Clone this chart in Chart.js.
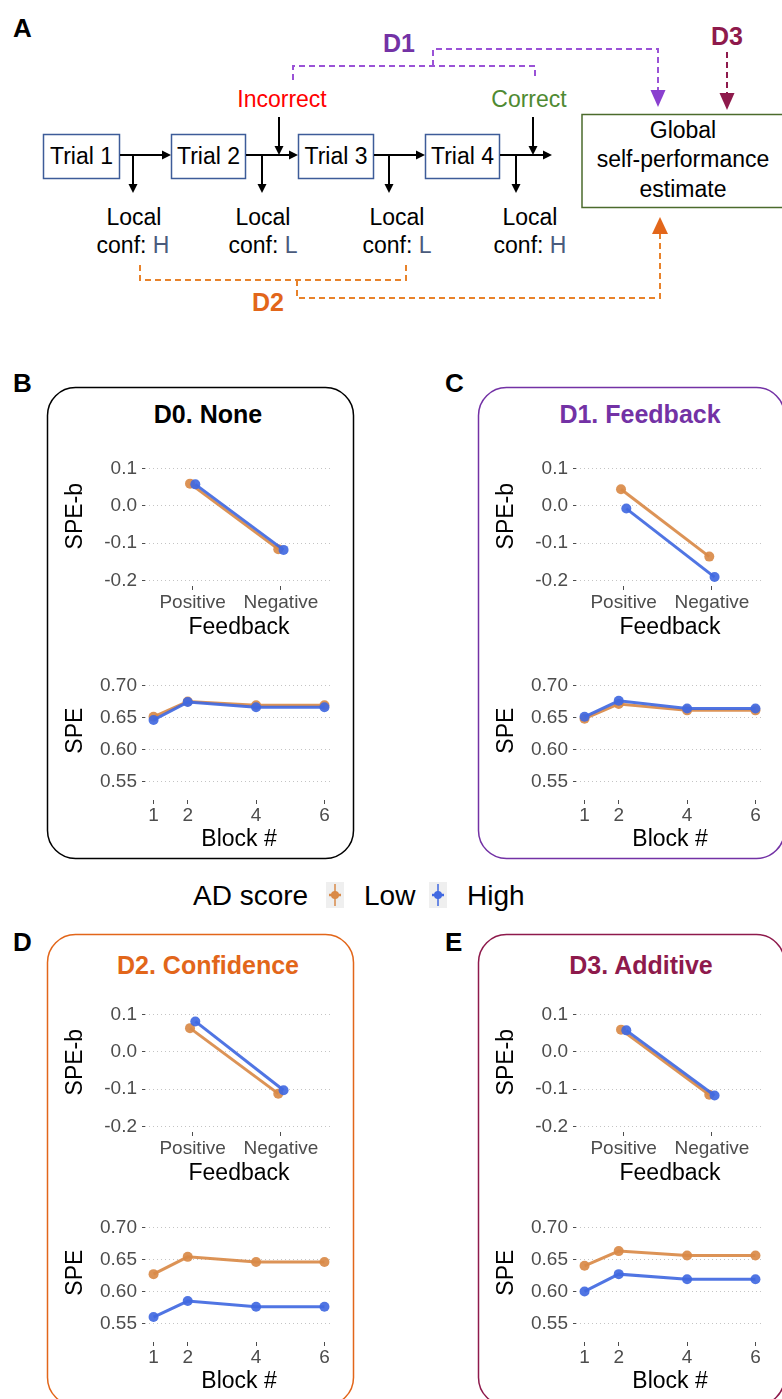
<!DOCTYPE html>
<html>
<head>
<meta charset="utf-8">
<script src="https://cdn.jsdelivr.net/npm/chart.js@4.4.0/dist/chart.umd.min.js"></script>
<style>
    body { margin: 0; width: 782px; height: 1399px; overflow: hidden; background: #fff; position: relative;
           font-family: "Liberation Sans", Arial, sans-serif; }
    #art { position: absolute; left: 0; top: 0; }
    canvas { position: absolute; }
    .t { font-family: "Liberation Sans", Arial, sans-serif; }
</style>
</head>
<body>
<svg id="art" width="782" height="1399" class="t">
    <!-- panel A: diagram -->
    <text x="13" y="37" font-size="26" font-weight="bold">A</text>

    <g fill="none" stroke="#3d5c99" stroke-width="1.5">
        <rect x="43.5" y="134.5" width="76" height="44"/>
        <rect x="171.5" y="134.5" width="74" height="44"/>
        <rect x="298.5" y="134.5" width="75" height="44"/>
        <rect x="425.5" y="134.5" width="74" height="44"/>
    </g>
    <g font-size="23" text-anchor="middle">
        <text x="81.5" y="164">Trial 1</text>
        <text x="208.5" y="164">Trial 2</text>
        <text x="336" y="164">Trial 3</text>
        <text x="462.5" y="164">Trial 4</text>
    </g>
    <g stroke="#000" stroke-width="2">
        <line x1="120" y1="155" x2="163" y2="155"/>
        <line x1="246" y1="155" x2="290" y2="155"/>
        <line x1="374" y1="155" x2="417" y2="155"/>
        <line x1="500" y1="155" x2="544" y2="155"/>
        <line x1="133" y1="155" x2="133" y2="185"/>
        <line x1="262" y1="155" x2="262" y2="185"/>
        <line x1="389" y1="155" x2="389" y2="185"/>
        <line x1="516" y1="155" x2="516" y2="185"/>
        <line x1="279" y1="117" x2="279" y2="147"/>
        <line x1="533" y1="117" x2="533" y2="147"/>
    </g>
    <g fill="#000">
        <polygon points="171,155 162,150.5 162,159.5"/>
        <polygon points="298,155 289,150.5 289,159.5"/>
        <polygon points="425,155 416,150.5 416,159.5"/>
        <polygon points="552,155 543,150.5 543,159.5"/>
        <polygon points="133,193 128.5,184 137.5,184"/>
        <polygon points="262,193 257.5,184 266.5,184"/>
        <polygon points="389,193 384.5,184 393.5,184"/>
        <polygon points="516,193 511.5,184 520.5,184"/>
        <polygon points="279,155 274.5,146 283.5,146"/>
        <polygon points="533,155 528.5,146 537.5,146"/>
    </g>
    <text x="282" y="107" font-size="23" text-anchor="middle" fill="#ff0000">Incorrect</text>
    <text x="529" y="107" font-size="23" text-anchor="middle" fill="#4f8a32">Correct</text>

    <g font-size="23" text-anchor="middle">
        <text x="134" y="225">Local</text>
        <text x="133" y="253">conf: <tspan fill="#4a5b7c">H</tspan></text>
        <text x="263" y="225">Local</text>
        <text x="263" y="253">conf: <tspan fill="#4a5b7c">L</tspan></text>
        <text x="397" y="225">Local</text>
        <text x="397" y="253">conf: <tspan fill="#4a5b7c">L</tspan></text>
        <text x="530" y="225">Local</text>
        <text x="530" y="253">conf: <tspan fill="#4a5b7c">H</tspan></text>
    </g>

    <rect x="582" y="114.5" width="220" height="93" fill="none" stroke="#4b6b2c" stroke-width="1.5"/>
    <g font-size="23" text-anchor="middle">
        <text x="683" y="138">Global</text>
        <text x="683" y="167">self-performance</text>
        <text x="683" y="197">estimate</text>
    </g>

    <!-- D1 feedback path -->
    <g fill="none" stroke="#9a52d6" stroke-width="2" stroke-dasharray="6 4">
        <path d="M293,80 V66 H535 V80"/>
        <path d="M433,66 V49 H658 V92"/>
    </g>
    <polygon points="658,107 650.5,90 665.5,90" fill="#8a40cf"/>
    <text x="399" y="52" font-size="25" font-weight="bold" text-anchor="middle" fill="#7332a5">D1</text>

    <!-- D3 additive path -->
    <path d="M727,52 V94" fill="none" stroke="#8e1a4c" stroke-width="2" stroke-dasharray="6 4"/>
    <polygon points="727,110 719.5,93 734.5,93" fill="#8e1a4c"/>
    <text x="727" y="45" font-size="25" font-weight="bold" text-anchor="middle" fill="#8e1a4c">D3</text>

    <!-- D2 confidence path -->
    <g fill="none" stroke="#e8822a" stroke-width="2" stroke-dasharray="6 4">
        <path d="M140,265 V280 H406 V265"/>
        <path d="M297,280 V298 H660 V234"/>
    </g>
    <polygon points="660,217 652,234 668,234" fill="#e2661a"/>
    <text x="268" y="311" font-size="25" font-weight="bold" text-anchor="middle" fill="#e2661a">D2</text>

    <!-- panel letters and frames -->
    <g font-size="26" font-weight="bold">
        <text x="13" y="392">B</text>
        <text x="445" y="392">C</text>
        <text x="13" y="951">D</text>
        <text x="445" y="951">E</text>
    </g>
    <g fill="none" stroke-width="1.5">
        <rect x="47.5" y="387.5" width="306" height="471" rx="28" stroke="#000"/>
        <rect x="478.5" y="387.5" width="306" height="471" rx="28" stroke="#7332a5"/>
        <rect x="47.5" y="934.5" width="306" height="471" rx="28" stroke="#e2661a"/>
        <rect x="478.5" y="934.5" width="306" height="471" rx="28" stroke="#8e1a4c"/>
    </g>
    <g font-size="25" font-weight="bold" text-anchor="middle">
        <text x="208" y="423" fill="#000">D0. None</text>
        <text x="640" y="423" fill="#7332a5">D1. Feedback</text>
        <text x="208" y="974" fill="#e2661a">D2. Confidence</text>
        <text x="641" y="974" fill="#8e1a4c">D3. Additive</text>
    </g>

    <!-- shared legend -->
    <g font-size="28">
        <text x="193" y="905">AD score</text>
        <rect x="326" y="882" width="18" height="26" fill="#efefef"/>
        <line x1="335" y1="884" x2="335" y2="906" stroke="#d98a48" stroke-width="1.5"/>
        <line x1="329" y1="895" x2="341" y2="895" stroke="#d98a48" stroke-width="2.5"/>
        <circle cx="335" cy="895" r="4" fill="#d98a48"/>
        <text x="364" y="905">Low</text>
        <rect x="429" y="882" width="18" height="26" fill="#efefef"/>
        <line x1="438" y1="884" x2="438" y2="906" stroke="#4169e1" stroke-width="1.5"/>
        <line x1="432" y1="895" x2="444" y2="895" stroke="#4169e1" stroke-width="2.5"/>
        <circle cx="438" cy="895" r="4" fill="#4169e1"/>
        <text x="467" y="905">High</text>
    </g>
</svg>

<script>
// categories and ticks
const feedbackCats = ['Positive', 'Negative'];
const blocks = [1, 2, 4, 6];
const spebTicks = [-0.2, -0.1, 0.0, 0.1];
const speTicks = [0.55, 0.60, 0.65, 0.70];

// D0. None
const d0SpebLow = [0.060, -0.116];
const d0SpebHigh = [0.058, -0.118];
const d0SpeLow = [0.651, 0.675, 0.669, 0.669];
const d0SpeHigh = [0.646, 0.674, 0.666, 0.666];

// D1. Feedback
const d1SpebLow = [0.045, -0.136];
const d1SpebHigh = [-0.007, -0.191];
const d1SpeLow = [0.648, 0.671, 0.661, 0.661];
const d1SpeHigh = [0.651, 0.676, 0.664, 0.664];

// D2. Confidence
const d2SpebLow = [0.064, -0.112];
const d2SpebHigh = [0.082, -0.103];
const d2SpeLow = [0.627, 0.654, 0.646, 0.646];
const d2SpeHigh = [0.560, 0.585, 0.576, 0.576];

// D3. Additive
const d3SpebLow = [0.060, -0.115];
const d3SpebHigh = [0.058, -0.117];
const d3SpeLow = [0.640, 0.663, 0.656, 0.656];
const d3SpeHigh = [0.600, 0.627, 0.619, 0.619];

const lowColor = 'rgba(217, 138, 72, 0.92)';
const highColor = 'rgba(65, 105, 225, 0.92)';

Chart.defaults.font.family = '"Liberation Sans", Arial, sans-serif';

// panel offsets (x, top-row chart y, bottom-row chart y)
const panels = [
    { dx: 0,   dyTop: 0,   dyBot: 0,   spebLow: d0SpebLow, spebHigh: d0SpebHigh, speLow: d0SpeLow, speHigh: d0SpeHigh },
    { dx: 431, dyTop: 0,   dyBot: 0,   spebLow: d1SpebLow, spebHigh: d1SpebHigh, speLow: d1SpeLow, speHigh: d1SpeHigh },
    { dx: 0,   dyTop: 546, dyBot: 542, spebLow: d2SpebLow, spebHigh: d2SpebHigh, speLow: d2SpeLow, speHigh: d2SpeHigh },
    { dx: 431, dyTop: 546, dyBot: 542, spebLow: d3SpebLow, spebHigh: d3SpebHigh, speLow: d3SpeLow, speHigh: d3SpeHigh }
];

function addCanvas(left, top, w, h) {
    const c = document.createElement('canvas');
    c.width = w;
    c.height = h;
    c.style.left = left + 'px';
    c.style.top = top + 'px';
    document.body.appendChild(c);
    return c;
}

function makeChart(canvas, o) {
    return new Chart(canvas, {
        type: 'line',
        data: {
            datasets: [
                { label: 'High', data: o.high, borderColor: highColor, backgroundColor: highColor, order: 0 },
                { label: 'Low', data: o.low, borderColor: lowColor, backgroundColor: lowColor, order: 1 }
            ]
        },
        options: {
            responsive: false,
            animation: false,
            layout: { padding: { top: o.padTop, right: 7, left: 0, bottom: 0 } },
            plugins: { legend: { display: false }, tooltip: { enabled: false } },
            elements: {
                line: { borderWidth: 3, tension: 0 },
                point: { radius: 5, borderWidth: 0 }
            },
            scales: {
                x: {
                    type: 'linear',
                    min: o.xMin,
                    max: o.xMax,
                    afterBuildTicks: s => { s.ticks = o.xTicks.map(v => ({ value: v })); },
                    afterFit: s => { s.height = o.xHeight; },
                    ticks: {
                        color: '#4d4d4d', font: { size: 19 }, padding: o.xPad,
                        autoSkip: false, maxRotation: 0,
                        callback: o.xLabel
                    },
                    grid: { drawOnChartArea: false, tickLength: 4, tickColor: '#4d4d4d', tickBorderDash: [] },
                    border: { display: false },
                    title: { display: true, text: o.xTitle, color: '#000', font: { size: 23 }, padding: { top: 0, bottom: o.xTitlePad } }
                },
                y: {
                    type: 'linear',
                    min: o.yMin,
                    max: o.yMax,
                    afterBuildTicks: s => { s.ticks = o.yTicks.map(v => ({ value: v })); },
                    afterFit: s => { s.width = 93; },
                    ticks: { color: '#4d4d4d', font: { size: 19 }, padding: 5, callback: o.yLabel },
                    grid: { color: '#c4c4c4', tickColor: '#4d4d4d', tickLength: 3, tickBorderDash: [] },
                    border: { display: false, dash: [1, 3] },
                    title: { display: true, text: o.yTitle, color: '#000', font: { size: 23 }, padding: { top: 10, bottom: 0 } }
                }
            }
        }
    });
}

const dodge = 0.03;

panels.forEach(p => {
    // SPE-b by feedback
    const top = addCanvas(52 + p.dx, 430 + p.dyTop, 288, 215);
    makeChart(top, {
        low: p.spebLow.map((v, i) => ({ x: i + 1 - dodge, y: v })),
        high: p.spebHigh.map((v, i) => ({ x: i + 1 + dodge, y: v })),
        padTop: 8,
        xMin: 0.46, xMax: 2.59, xTicks: feedbackCats.map((c, i) => i + 1),
        xLabel: v => feedbackCats[Math.round(v) - 1],
        xHeight: 59, xPad: 1, xTitle: 'Feedback', xTitlePad: 4,
        yMin: -0.215, yMax: 0.160, yTicks: spebTicks,
        yLabel: v => v.toFixed(1), yTitle: 'SPE-b'
    });

    // SPE by block
    const bot = addCanvas(52 + p.dx, 645 + p.dyBot, 288, 211);
    makeChart(bot, {
        low: p.speLow.map((v, i) => ({ x: blocks[i], y: v })),
        high: p.speHigh.map((v, i) => ({ x: blocks[i], y: v })),
        padTop: 5,
        xMin: 0.75, xMax: 6.25, xTicks: blocks,
        xLabel: v => String(v),
        xHeight: 56, xPad: 0, xTitle: 'Block #', xTitlePad: 3,
        yMin: 0.521, yMax: 0.7375, yTicks: speTicks,
        yLabel: v => v.toFixed(2), yTitle: 'SPE'
    });
});
</script>
</body>
</html>
